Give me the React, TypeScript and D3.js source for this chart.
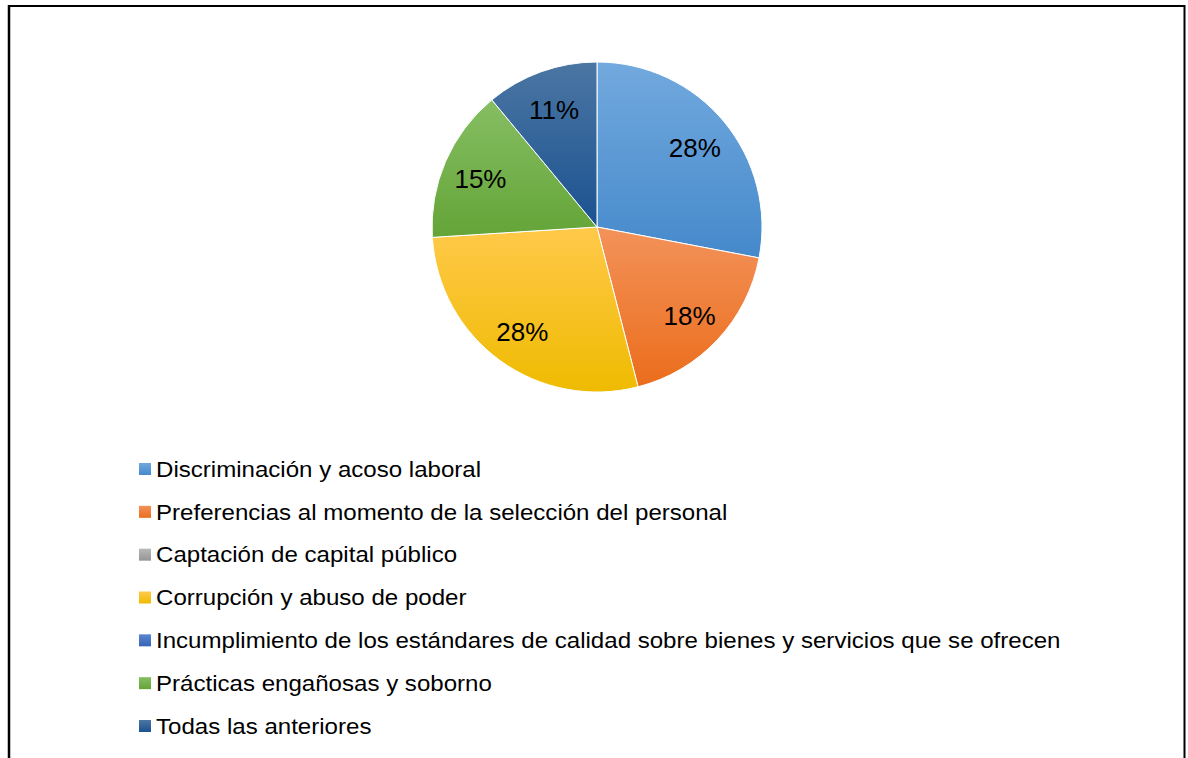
import React from "react";
import * as d3 from "d3";

const categories = [
  "Discriminación y acoso laboral",
  "Preferencias al momento de la selección del personal",
  "Captación de capital público",
  "Corrupción y abuso de poder",
  "Incumplimiento de los estándares de calidad sobre bienes y servicios que se ofrecen",
  "Prácticas engañosas y soborno",
  "Todas las anteriores",
];
const values = [28, 18, 0, 28, 0, 15, 11];
const colorsTop = ["#72a9de", "#f3925a", "#b8b8b8", "#ffc94a", "#5a86d0", "#86be63", "#4b76a3"];
const colorsBottom = ["#4589cb", "#eb6d1c", "#959595", "#efbb00", "#3663b5", "#64a437", "#1b5290"];

const W = 1188;
const H = 758;
const cx = 597;
const cy = 227;
const R = 165;
const labelR = 127;

export default function App() {
  const pie = d3.pie<number>().value((d) => d).sort(null);
  const arcs = pie(values);
  const arcGen = d3.arc<d3.PieArcDatum<number>>().innerRadius(0).outerRadius(R);
  const labelArc = d3.arc<d3.PieArcDatum<number>>().innerRadius(labelR).outerRadius(labelR);
  const total = d3.sum(values);
  const legendY = d3.scaleLinear().domain([0, categories.length - 1]).range([469, 726]);

  return (
    <svg
      width={W}
      height={H}
      style={{ position: "absolute", left: 0, top: 0, background: "#fff" }}
      fontFamily="Arial, 'Liberation Sans', sans-serif"
    >
      <defs>
        {categories.map((c, i) => (
          <linearGradient key={c} id={`g${i}`} x1="0" y1="0" x2="0" y2="1">
            <stop offset="0" stopColor={colorsTop[i]} />
            <stop offset="1" stopColor={colorsBottom[i]} />
          </linearGradient>
        ))}
      </defs>
      {/* frame */}
      <line x1={9} y1={6} x2={1185} y2={6} stroke="#000" strokeWidth={2} />
      <line x1={9} y1={5} x2={9} y2={H} stroke="#000" strokeWidth={2.5} />
      <line x1={1184.5} y1={5} x2={1184.5} y2={H} stroke="#000" strokeWidth={2} />

      <g transform={`translate(${cx},${cy})`}>
        {arcs.map((a, i) =>
          a.value > 0 ? (
            <path key={i} d={arcGen(a) || ""} fill={`url(#g${i})`} stroke="#fff" strokeWidth={1} />
          ) : null
        )}
        {arcs.map((a, i) => {
          if (a.value <= 0) return null;
          const [x, y] = labelArc.centroid(a);
          return (
            <text key={i} x={x} y={y + 2} textAnchor="middle" dominantBaseline="central" fontSize={26} fill="#000">
              {`${Math.round((a.value / total) * 100)}%`}
            </text>
          );
        })}
      </g>

      <g>
        {categories.map((c, i) => {
          const y = legendY(i);
          return (
            <g key={c}>
              <rect x={139} y={y - 6} width={12} height={12} fill={`url(#g${i})`} />
              <text
                transform={`translate(156,${y}) scale(1.07,1)`}
                dominantBaseline="central"
                fontSize={22.5}
                fill="#000"
              >
                {c}
              </text>
            </g>
          );
        })}
      </g>
    </svg>
  );
}
